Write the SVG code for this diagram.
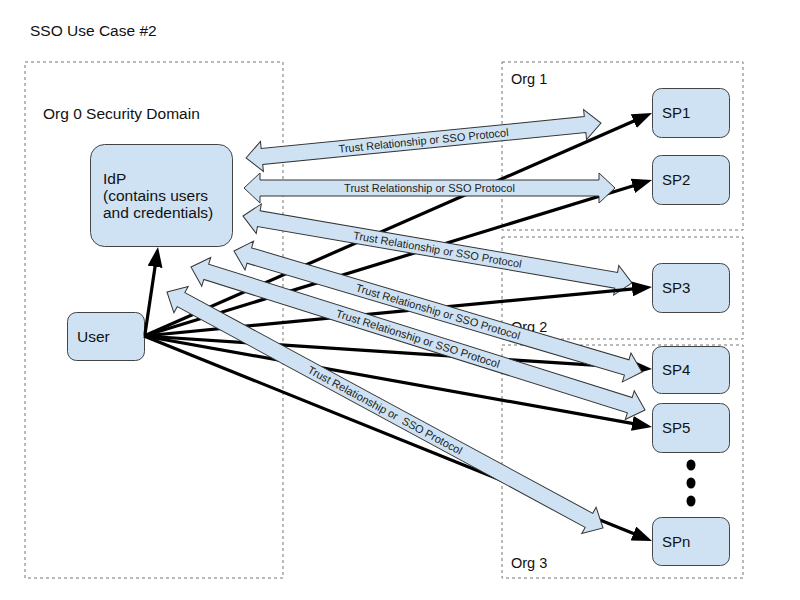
<svg xmlns="http://www.w3.org/2000/svg" width="800" height="600" viewBox="0 0 800 600">
<defs>
<style>
text{font-family:"Liberation Sans",Arial,sans-serif;fill:#111}
.t{font-size:15.5px}
.o{font-size:14.5px}
.sp{font-size:15px}
.zone{fill:none;stroke:#777;stroke-width:1;stroke-dasharray:3,3}
.node{fill:#cfe2f3;stroke:#444;stroke-width:1}
.blk{fill:#cfe2f3;stroke:#333;stroke-width:1}
.lbl{font-size:11px;fill:#222;text-anchor:middle}
.ln{stroke:#000;stroke-width:3.2;fill:none;marker-end:url(#ah)}
</style>
<marker id="ah" markerUnits="userSpaceOnUse" markerWidth="20" markerHeight="15" refX="4" refY="7.5" orient="auto">
<path d="M0,0 L20,7.5 L0,15 Z" fill="#000"/>
</marker>
</defs>
<rect width="800" height="600" fill="#fff"/>
<text x="30" y="36" class="t">SSO Use Case #2</text>

<g id="org0"><rect class="zone" x="25" y="62" width="258" height="516"/><text x="43" y="119" class="t">Org 0 Security Domain</text></g>
<g id="org1"><rect class="zone" x="502" y="62" width="241" height="168"/><text x="511" y="84" class="o">Org 1</text></g>
<g id="org2"><rect class="zone" x="502" y="237" width="241" height="102"/><text x="511" y="332" class="o">Org 2</text></g>
<g id="org3"><rect class="zone" x="502" y="345" width="241" height="233"/><text x="511" y="568" class="o">Org 3</text></g>

<g id="idp"><rect class="node" x="90.5" y="144.5" width="142" height="102" rx="14"/>
<text x="103" y="184" class="t">IdP</text><text x="103" y="201" class="t">(contains users</text><text x="103" y="218" class="t">and credentials)</text></g>
<g id="user"><rect class="node" x="67.5" y="312.5" width="77" height="48" rx="9"/><text x="77" y="342" class="t">User</text></g>
<g id="sp1"><rect class="node" x="652.5" y="88.5" width="77" height="49" rx="9"/><text x="662" y="118" class="sp">SP1</text></g>
<g id="sp2"><rect class="node" x="652.5" y="155.5" width="77" height="49" rx="9"/><text x="662" y="185" class="sp">SP2</text></g>
<g id="sp3"><rect class="node" x="652.5" y="263.5" width="77" height="49" rx="9"/><text x="662" y="293" class="sp">SP3</text></g>
<g id="sp4"><rect class="node" x="652.5" y="346.5" width="77" height="47" rx="9"/><text x="662" y="375" class="sp">SP4</text></g>
<g id="sp5"><rect class="node" x="652.5" y="403.5" width="77" height="49" rx="9"/><text x="662" y="433" class="sp">SP5</text></g>
<g id="spn"><rect class="node" x="652.5" y="517.5" width="77" height="48" rx="9"/><text x="662" y="547" class="sp">SPn</text></g>
<g id="dots" fill="#000"><ellipse cx="691" cy="465" rx="4.5" ry="5.5"/><ellipse cx="691" cy="483" rx="4.5" ry="5.5"/><ellipse cx="691" cy="501" rx="4.5" ry="5.5"/></g>

<g id="connectors">
<line class="ln" x1="144" y1="336" x2="637.35" y2="119.43"/>
<line class="ln" x1="144" y1="336" x2="636.7" y2="184.7"/>
<g transform="translate(423.5,140.5) rotate(-5.63)"><path class="blk" d="M-178.35,0 L-162.35,-15 L-162.35,-8 L162.35,-8 L162.35,-15 L178.35,0 L162.35,15 L162.35,8 L-162.35,8 L-162.35,15 Z"/><text class="lbl" x="0" y="4">Trust Relationship or SSO Protocol</text></g>
<g transform="translate(429.5,188)"><path class="blk" d="M-185.5,0 L-169.5,-15 L-169.5,-8 L169.5,-8 L169.5,-15 L185.5,0 L169.5,15 L169.5,8 L-169.5,8 L-169.5,15 Z"/><text class="lbl" x="0" y="4">Trust Relationship or SSO Protocol</text></g>
<g transform="translate(437.5,249.5) rotate(9.77)"><path class="blk" d="M-197.35,0 L-181.35,-15 L-181.35,-8 L181.35,-8 L181.35,-15 L197.35,0 L181.35,15 L181.35,8 L-181.35,8 L-181.35,15 Z"/><text class="lbl" x="0" y="4">Trust Relationship or SSO Protocol</text></g>
<line class="ln" x1="144" y1="336" x2="636.08" y2="288.54"/>
<line class="ln" x1="145" y1="334" x2="155.64" y2="262.82"/>
<line class="ln" x1="144" y1="336" x2="636.04" y2="367.96"/>
<line class="ln" x1="144" y1="336" x2="636.25" y2="424.18"/>
<line class="ln" x1="144" y1="336" x2="637.16" y2="535.01"/>
<g transform="translate(438,311.5) rotate(16.52)"><path class="blk" d="M-212.8,0 L-196.8,-15 L-196.8,-8 L196.8,-8 L196.8,-15 L212.8,0 L196.8,15 L196.8,8 L-196.8,8 L-196.8,15 Z"/><text class="lbl" x="0" y="4">Trust Relationship or SSO Protocol</text></g>
<g transform="translate(418,338.5) rotate(17.48)"><path class="blk" d="M-238,0 L-222,-15 L-222,-8 L222,-8 L222,-15 L238,0 L222,15 L222,8 L-222,8 L-222,15 Z"/><text class="lbl" x="0" y="4">Trust Relationship or SSO Protocol</text></g>
<g transform="translate(385,410) rotate(28.42)"><path class="blk" d="M-247.9,0 L-231.9,-15 L-231.9,-8 L231.9,-8 L231.9,-15 L247.9,0 L231.9,15 L231.9,8 L-231.9,8 L-231.9,15 Z"/><text class="lbl" x="0" y="4" xml:space="preserve">Trust Relationship or  SSO Protocol</text></g>
</g>
</svg>
